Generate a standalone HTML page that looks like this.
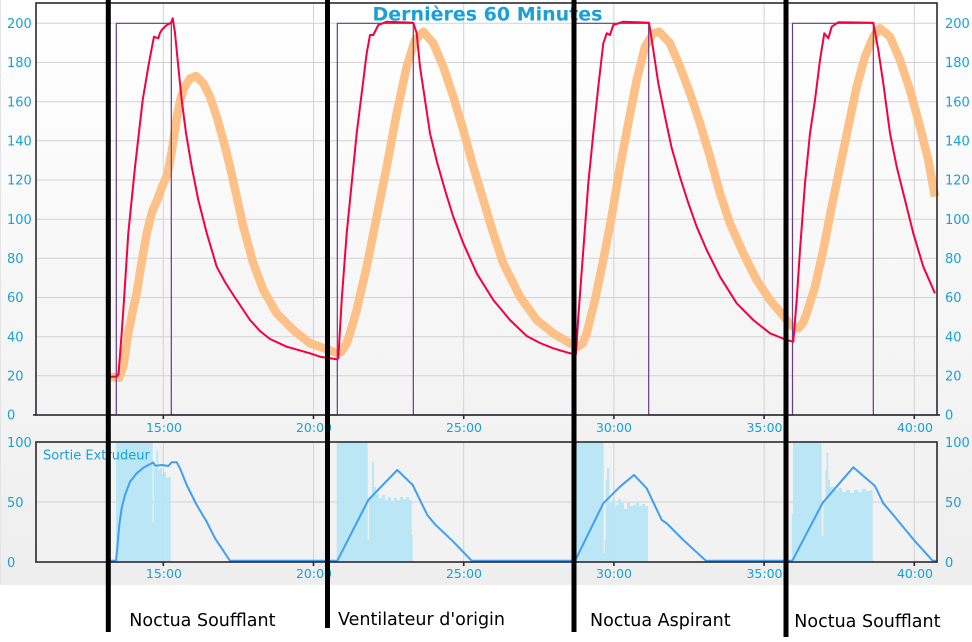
<!DOCTYPE html>
<html>
<head>
<meta charset="utf-8">
<style>
html,body{margin:0;padding:0;background:#fff;}
svg{display:block;}
text{font-family:"DejaVu Sans","Liberation Sans",sans-serif;}
</style>
</head>
<body>
<svg width="972" height="642" viewBox="0 0 972 642" xmlns="http://www.w3.org/2000/svg">
<defs>
<linearGradient id="bg" x1="0" y1="0" x2="0" y2="1">
<stop offset="0" stop-color="#ffffff"/>
<stop offset="1" stop-color="#eeeeee"/>
</linearGradient>
</defs>
<rect x="0" y="0" width="972" height="642" fill="#ffffff"/>
<rect x="0" y="0" width="972" height="585" fill="url(#bg)"/>
<rect x="0" y="0" width="1" height="585" fill="#e4e4e4"/>
<rect x="36" y="442" width="901" height="120" fill="#f2f2f2"/>

<!-- grid top -->
<g stroke="#d2d2d2" stroke-width="1">
<line x1="36" y1="23.3" x2="937" y2="23.3"/>
<line x1="36" y1="62.5" x2="937" y2="62.5"/>
<line x1="36" y1="101.7" x2="937" y2="101.7"/>
<line x1="36" y1="140.8" x2="937" y2="140.8"/>
<line x1="36" y1="180" x2="937" y2="180"/>
<line x1="36" y1="219.2" x2="937" y2="219.2"/>
<line x1="36" y1="258.3" x2="937" y2="258.3"/>
<line x1="36" y1="297.5" x2="937" y2="297.5"/>
<line x1="36" y1="336.7" x2="937" y2="336.7"/>
<line x1="36" y1="375.8" x2="937" y2="375.8"/>
<line x1="163.3" y1="3" x2="163.3" y2="415"/>
<line x1="313.5" y1="3" x2="313.5" y2="415"/>
<line x1="463.7" y1="3" x2="463.7" y2="415"/>
<line x1="613.9" y1="3" x2="613.9" y2="415"/>
<line x1="764.1" y1="3" x2="764.1" y2="415"/>
<line x1="914.3" y1="3" x2="914.3" y2="415"/>
<!-- bottom grid -->
<line x1="36" y1="502" x2="937" y2="502"/>
<line x1="163.3" y1="442" x2="163.3" y2="562"/>
<line x1="313.5" y1="442" x2="313.5" y2="562"/>
<line x1="463.7" y1="442" x2="463.7" y2="562"/>
<line x1="613.9" y1="442" x2="613.9" y2="562"/>
<line x1="764.1" y1="442" x2="764.1" y2="562"/>
<line x1="914.3" y1="442" x2="914.3" y2="562"/>
</g>

<!-- bars bottom -->
<g fill="#b5e5f5" fill-opacity="0.92">
<polygon points="116,561.7 116,441.7 152.7,441.7 152.7,523 153.8,523 153.8,468 156.3,468 156.3,450 158.3,450 158.3,470 160,470 160,468 162,468 162,474 164,474 164,472 166,472 166,478 168,478 168,477 170.7,477 170.7,561.7"/>
<polygon points="336.7,561.7 336.7,441.7 367.7,441.7 367.7,540 369,540 369,497 372,497 372,462 374,462 374,487 376,487 376,494 379,494 379,498 382,498 382,495 385,495 385,500 388,500 388,497 391,497 391,501 394,501 394,498 397,498 397,500 400,500 400,497 403,497 403,499 406,499 406,497 409,497 409,500 411.7,500 411.7,535 412.7,535 412.7,561.7"/>
<polygon points="574,561.7 574,441.7 603.7,441.7 603.7,553 604.7,553 604.7,540 605.7,540 605.7,480 607,480 607,468 609.3,468 609.3,503 612,503 612,500 615,500 615,505 618,505 618,499 621,499 621,503 624,503 624,509 627,509 627,503 630,503 630,506 633,506 633,505 636,505 636,502 639,502 639,506 642,506 642,504 645,504 645,506 648,506 648,561.7"/>
<polygon points="791.7,561.7 791.7,513 793,513 793,441.7 821.7,441.7 821.7,536 823.3,536 823.3,500 825.5,500 825.5,470 826.5,470 826.5,452.7 828.3,452.7 828.3,480 830,480 830,487 834,487 834,490 838,490 838,488 842,488 842,492 846,492 846,490 850,490 850,493 854,493 854,490 858,490 858,492 862,492 862,489 866,489 866,491 870,491 870,490 872.7,490 872.7,561.7"/>
</g>

<!-- blue line bottom -->
<polyline fill="none" stroke="#3f9ff2" stroke-width="2" stroke-linejoin="round" points="108,560.8 116,560.8 117.3,548 119.3,525 121.7,508 125,495 130,481.7 136.7,473.3 143.3,467.7 151.7,463.3 153.3,462.5 155,465.7 161.7,465 168.3,466 171.7,462.3 176.7,462.3 180,468.3 186.7,485 196.7,505 206.7,521.7 215,538.3 221.7,548.3 230,560.8 337.3,560.8 368.3,500 397.3,470 412.7,485 427.3,515 435,524.3 453.3,541.7 471.7,560.8 575,560.8 603.3,503.3 620,486.7 634,475 646.7,488.3 661.7,520 666.7,523.3 683.3,540 706,560.8 792.3,560.8 822.7,502.7 853.3,467.3 875,486 883.3,503.3 893.3,515 913.3,539.3 932.7,560.8 937,560.8"/>

<!-- orange -->
<polyline fill="none" stroke="#fdc086" stroke-width="8.5" stroke-linejoin="round" points="108,377 113,377 119,378 123.3,366.7 128.3,333 133,310 136.7,293.3 141,266 146.7,233.3 152,212 157.3,200 162,187 167.7,173.3 172,150 176.7,118 180,101 184,88 190,78.5 196,76 203.3,83.3 210,96.7 216.7,116.7 223.3,140 230,166.7 236.7,196.7 243.3,226.7 253.3,263.3 263.3,290 276.7,313.3 293.3,330 310,343.3 320,346.7 333.3,351.7 337,353 341,352 346.7,343.3 351,330 356.7,310 366.7,266.7 376.7,216.7 386.7,166.7 396.7,113.3 406.7,66.7 415,40 423.3,31.7 433.3,43.3 443.3,66.7 453.3,96.7 463.3,130 473.3,166.7 483.3,200 493.3,233.3 503.3,263.3 520,296.7 536.7,320 553.3,333.3 570,343.3 578.3,346.7 583,343 586.7,333.3 595,300 603.3,260 611.7,216.7 620,166.7 628.3,123.3 636.7,80 645,46.7 653.3,33.3 659.3,31.7 670,43.3 680,66.7 690,93.3 700,123.3 710,156.7 720,193.3 730,223.3 743.3,253.3 756.7,280 770,300 786.7,320 790,325 798.3,328.3 803,323 806.7,313.3 815,286.7 823.3,250 831.7,206.7 840,166.7 848.3,126.7 856.7,86.7 865,56.7 873.3,36.7 880,28.3 890,36.7 900,60 910,90 920,126.7 928.3,160 935,196.7"/>

<!-- purple setpoint -->
<polyline fill="none" stroke="#6b3a80" stroke-width="1.2" points="108,415 116.3,415 116.3,23.3 171.3,23.3 171.3,415 337.3,415 337.3,23.3 413.3,23.3 413.3,415 575,415 575,23.3 648.7,23.3 648.7,415 792.5,415 792.5,23.3 873.3,23.3 873.3,415 937,415"/>

<!-- red -->
<polyline fill="none" stroke="#f50040" stroke-width="2" stroke-linejoin="round" points="108,377 111,376.7 117,376.5 118.5,374 120,355 121.7,333 124,300 128.3,233 135,167 142.7,100 148.3,66.7 151,52 154,36.7 156,37.5 158.3,38.3 160,33 161.7,30 166.7,25 170,23.3 171.5,22 172.7,18.3 175,33 178.3,66.7 181.7,100 186,133 191.7,166.7 198.3,200 206.7,233 216.7,266.7 225,282 233.3,295 250,320 260,331 270,339 286.7,346.7 310,353.3 320,356.7 336.7,359.3 338.3,358.3 341.7,300 346.7,233.3 351.7,183.3 356.7,133.3 361.7,93.3 366.7,53.3 370,35 373.3,35 378.3,25 386.7,21.7 413.3,22.7 416.7,33.3 420,66.7 425,100 430,133.3 437,162 445,190 453,216 463.3,243.3 476.7,273.3 493.3,300 510,320 526.7,336 540,343 553.3,348.3 570,353.3 576,354 578.3,316.7 583.3,250 588.3,183.3 593.3,133.3 598.3,86.7 603.3,43.3 606.7,33.3 610,35 613.3,25 623.3,21.7 649,22.7 653.3,50 658.3,83.3 665,116.7 671.7,148 680,177 688.3,203 696.7,226.7 706.7,250 720,276.7 736.7,303.3 753.3,320 770,333.3 786.7,340 793.3,341.7 796.7,300 800,250 805,183.3 810,133.3 815,100 820,60 824.3,33.3 828.3,38.3 831.7,26.7 838.3,22.3 873.3,22.7 878.3,50 883.3,83.3 890,133.3 896.7,166.7 905,200 913.3,233.3 923.3,266.7 935,293.3"/>

<!-- frames -->
<g fill="none" stroke="#2a2a30" stroke-width="1.6">
<rect x="36" y="3" width="901" height="412"/>
<rect x="36" y="442" width="901" height="120"/>
<line x1="33" y1="415" x2="36" y2="415"/>
<line x1="937" y1="415" x2="940" y2="415"/>
<line x1="163.3" y1="415" x2="163.3" y2="419"/>
<line x1="313.5" y1="415" x2="313.5" y2="419"/>
<line x1="463.7" y1="415" x2="463.7" y2="419"/>
<line x1="613.9" y1="415" x2="613.9" y2="419"/>
<line x1="764.1" y1="415" x2="764.1" y2="419"/>
<line x1="914.3" y1="415" x2="914.3" y2="419"/>
<line x1="163.3" y1="562" x2="163.3" y2="566"/>
<line x1="313.5" y1="562" x2="313.5" y2="566"/>
<line x1="463.7" y1="562" x2="463.7" y2="566"/>
<line x1="613.9" y1="562" x2="613.9" y2="566"/>
<line x1="764.1" y1="562" x2="764.1" y2="566"/>
<line x1="914.3" y1="562" x2="914.3" y2="566"/>
</g>

<!-- y labels -->
<g fill="#1aa0d4" font-size="13">
<text x="7" y="28">200</text>
<text x="7" y="67.2">180</text>
<text x="7" y="106.4">160</text>
<text x="7" y="145.5">140</text>
<text x="7" y="184.7">120</text>
<text x="7" y="223.9">100</text>
<text x="7" y="263">80</text>
<text x="7" y="302.2">60</text>
<text x="7" y="341.4">40</text>
<text x="7" y="380.5">20</text>
<text x="7" y="419.7">0</text>
<text x="945" y="28">200</text>
<text x="945" y="67.2">180</text>
<text x="945" y="106.4">160</text>
<text x="945" y="145.5">140</text>
<text x="945" y="184.7">120</text>
<text x="945" y="223.9">100</text>
<text x="945" y="263">80</text>
<text x="945" y="302.2">60</text>
<text x="945" y="341.4">40</text>
<text x="945" y="380.5">20</text>
<text x="945" y="419.7">0</text>
<text x="7" y="447">100</text>
<text x="7" y="507">50</text>
<text x="7" y="567">0</text>
<text x="945" y="447">100</text>
<text x="945" y="507">50</text>
<text x="945" y="567">0</text>
<text x="43" y="459.5">Sortie Extrudeur</text>
</g>
<g fill="#1aa0d4" font-size="12.5" text-anchor="middle">
<text x="164" y="432">15:00</text>
<text x="314" y="432">20:00</text>
<text x="464" y="432">25:00</text>
<text x="614" y="432">30:00</text>
<text x="764.5" y="432">35:00</text>
<text x="915" y="432">40:00</text>
<text x="164" y="578">15:00</text>
<text x="314" y="578">20:00</text>
<text x="464" y="578">25:00</text>
<text x="614" y="578">30:00</text>
<text x="764.5" y="578">35:00</text>
<text x="915" y="578">40:00</text>
</g>

<text x="487.5" y="20.5" text-anchor="middle" font-size="19" font-weight="bold" fill="#1a9fd6">Dernières 60 Minutes</text>

<!-- thick black separators -->
<g stroke="#000" stroke-width="5">
<line x1="108.3" y1="0" x2="108.3" y2="632"/>
<line x1="327.5" y1="0" x2="327.5" y2="628"/>
<line x1="574" y1="0" x2="574" y2="632"/>
<line x1="786" y1="0" x2="786" y2="637"/>
</g>

<g fill="#000" font-size="17.5">
<text x="129.3" y="626">Noctua Soufflant</text>
<text x="338" y="625">Ventilateur d'origin</text>
<text x="590" y="626">Noctua Aspirant</text>
<text x="794.3" y="627">Noctua Soufflant</text>
</g>
</svg>
</body>
</html>
